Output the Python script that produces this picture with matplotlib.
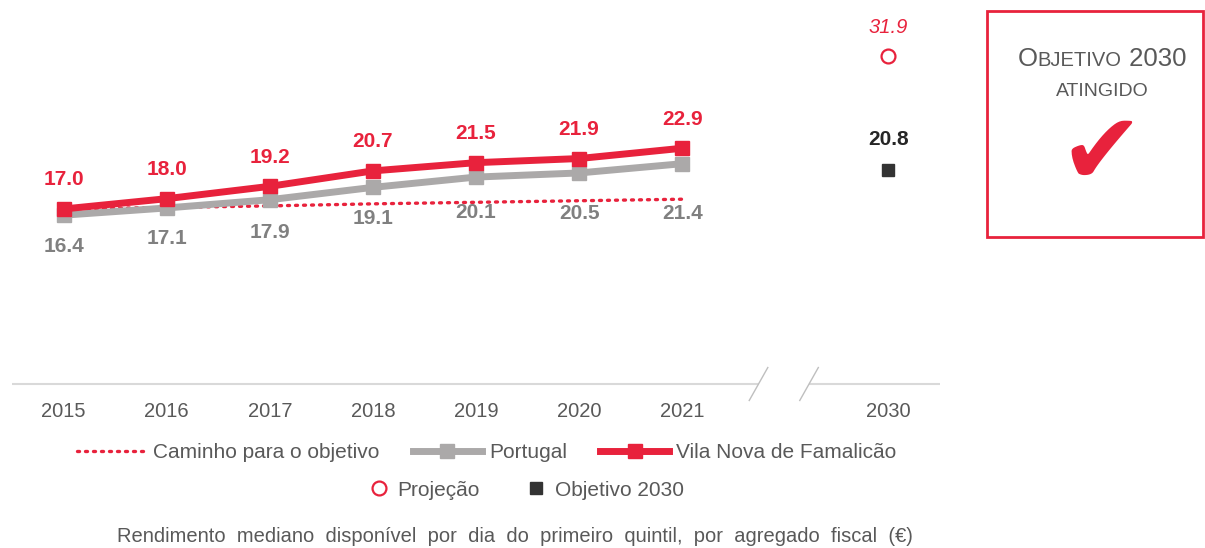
"""Rendimento mediano disponível (1.º quintil) — Vila Nova de Famalicão vs Portugal."""
import matplotlib
matplotlib.use("Agg")
import matplotlib.pyplot as plt
from matplotlib.lines import Line2D
from matplotlib.patches import Rectangle

plt.rcParams["font.family"] = ["Liberation Sans", "DejaVu Sans"]

# dados
anos = ["2015", "2016", "2017", "2018", "2019", "2020", "2021"]
ano_meta = "2030"
vnf = [17.0, 18.0, 19.2, 20.7, 21.5, 21.9, 22.9]
portugal = [16.4, 17.1, 17.9, 19.1, 20.1, 20.5, 21.4]
caminho = [17.0, 17.15, 17.3, 17.5, 17.65, 17.8, 17.95]
projecao = 31.9
objetivo = 20.8

VERMELHO = "#E8223C"
CINZA = "#ABA9A9"
CINZA_TXT = "#808080"
TXT = "#595959"
ESCURO = "#333333"

# deslocamentos (px) dos rótulos de Portugal, abaixo dos pontos
dy_pt = [-31, -31, -33, -31, -35, -41, -50]

fig = plt.figure(figsize=(12.05, 5.48), dpi=100)
ax = fig.add_axes([12 / 1205, 164 / 548, 928 / 1205, 384 / 548])
ax.set_xlim(-0.5, 8.5)
ax.set_ylim(0, 37.3)
for s in ax.spines.values():
    s.set_visible(False)
ax.set_yticks([])

x = list(range(len(anos)))
x_meta = len(anos) + 1

ax.plot(x, caminho, ls=(0, (0.6, 1.8)), lw=2.4, color=VERMELHO,
        dash_capstyle="round", zorder=2, clip_on=False)
ax.plot(x, portugal, color=CINZA, lw=5, marker="s", ms=9.5, zorder=3, clip_on=False)
ax.plot(x, vnf, color=VERMELHO, lw=5, marker="s", ms=10, zorder=4, clip_on=False)
ax.plot([x_meta], [projecao], ls="none", marker="o", ms=10, mfc="white",
        mec=VERMELHO, mew=1.6, clip_on=False)
ax.plot([x_meta], [objetivo], ls="none", marker="s", ms=9, color=ESCURO, clip_on=False)

for xi, v in zip(x, vnf):
    ax.annotate(f"{v:.1f}", (xi, v), xytext=(0, 29), textcoords="offset pixels",
                ha="center", va="center", fontsize=15, fontweight="bold", color=VERMELHO)
for xi, v, d in zip(x, portugal, dy_pt):
    ax.annotate(f"{v:.1f}", (xi, v), xytext=(0, d), textcoords="offset pixels",
                ha="center", va="center", fontsize=15, fontweight="bold", color=CINZA_TXT)
ax.annotate(f"{projecao:.1f}", (x_meta, projecao), xytext=(0, 28), textcoords="offset pixels",
            ha="center", va="center", fontsize=14.5, style="italic", color=VERMELHO)
ax.annotate(f"{objetivo:.1f}", (x_meta, objetivo), xytext=(0, 30), textcoords="offset pixels",
            ha="center", va="center", fontsize=15, fontweight="bold", color="#262626")

# eixo x com quebra
ax.hlines(0, -0.5, 6.74, color="#D9D9D9", lw=1.5, clip_on=False)
ax.hlines(0, 7.23, 8.5, color="#D9D9D9", lw=1.5, clip_on=False)
for xb in (6.74, 7.23):
    ax.plot([xb - 0.09, xb + 0.09], [-1.6, 1.6], color="#BFBFBF", lw=1, clip_on=False)
ax.set_xticks(x + [x_meta])
ax.set_xticklabels(anos + [ano_meta], fontsize=14.5, color=TXT)
ax.tick_params(axis="x", length=0, pad=13)

# legenda
h1 = [Line2D([], [], ls=(0, (0.6, 1.8)), lw=2.4, color=VERMELHO, dash_capstyle="round"),
      Line2D([], [], color=CINZA, lw=5, marker="s", ms=9.5),
      Line2D([], [], color=VERMELHO, lw=5, marker="s", ms=10)]
fig.legend(h1, ["Caminho para o objetivo", "Portugal", "Vila Nova de Famalicão"],
           loc="center", bbox_to_anchor=(487 / 1205, 1 - 453 / 548), ncol=3,
           frameon=False, fontsize=15, handlelength=3.3, handletextpad=0.35,
           columnspacing=1.6, labelcolor=TXT)
h2 = [Line2D([], [], ls="none", marker="o", ms=10, mfc="white", mec=VERMELHO, mew=1.6),
      Line2D([], [], ls="none", marker="s", ms=9, color=ESCURO)]
fig.legend(h2, ["Projeção", "Objetivo 2030"], loc="center",
           bbox_to_anchor=(526 / 1205, 1 - 490 / 548), ncol=2, frameon=False,
           fontsize=15, handlelength=1.0, handletextpad=0.4, columnspacing=2.2,
           labelcolor=TXT)

fig.text(515 / 1205, 1 - 537 / 548,
         "Rendimento  mediano  disponível  por  dia  do  primeiro  quintil,  por  agregado  fiscal  (€)",
         ha="center", va="center", fontsize=14.5, color=TXT)

# caixa "Objetivo 2030 atingido"
fig.patches.append(Rectangle((987 / 1205, 1 - 237 / 548), 216 / 1205, 226 / 548,
                             transform=fig.transFigure, fill=False,
                             edgecolor=VERMELHO, lw=2))
partes = [("O", 18.5), ("BJETIVO", 14.5), (" 2030", 18.5)]
fig.canvas.draw()
r = fig.canvas.get_renderer()
txts = [fig.text(0, 1 - 66 / 548, s, fontsize=fs, color=TXT, ha="left", va="baseline")
        for s, fs in partes]
larg = [t.get_window_extent(r).width for t in txts]
x0 = 1102 - sum(larg) / 2
for t, w in zip(txts, larg):
    t.set_x(x0 / 1205)
    x0 += w
fig.text(1102 / 1205, 1 - 96 / 548, "ATINGIDO", fontsize=14, color=TXT,
         ha="center", va="baseline")
fig.text(1101 / 1205, 1 - 156 / 548, "✔", fontsize=72, color=VERMELHO,
         ha="center", va="center", family="DejaVu Sans")

fig.savefig("out.png", dpi=100)
